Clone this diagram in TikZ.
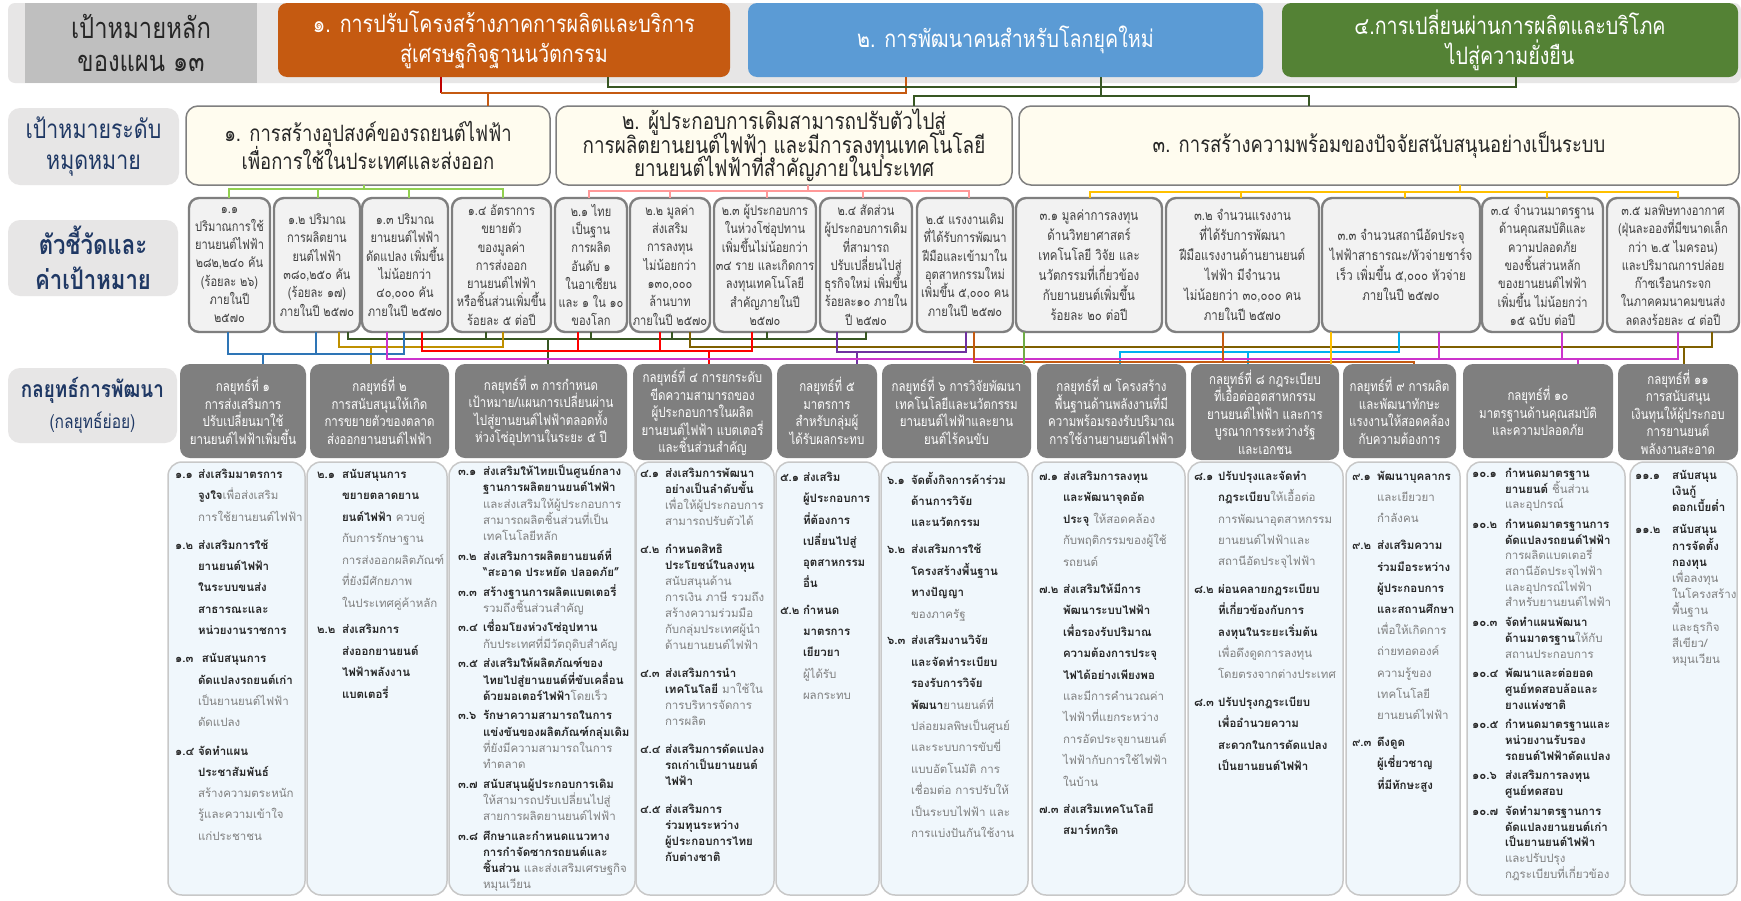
\documentclass[tikz,border=0pt]{standalone}
\usepackage{fontspec}
\setmainfont[Script=Thai]{Loma}
\newfontfamily\thc[Script=Thai,FakeStretch=0.82]{Loma}
\usetikzlibrary{calc}
\definecolor{bandgray}{HTML}{E7E6E6}
\definecolor{hdrgray}{HTML}{BFBFBF}
\definecolor{orgbox}{HTML}{C55A11}
\definecolor{bluebox}{HTML}{5B9BD5}
\definecolor{greenbox}{HTML}{548235}
\definecolor{navy}{HTML}{1F3864}
\definecolor{cream}{HTML}{FFFCEF}
\definecolor{boxborder}{HTML}{7F7F7F}
\definecolor{indfill}{HTML}{F2F2F2}
\definecolor{indtext}{HTML}{404040}
\definecolor{stratfill}{HTML}{7F7F7F}
\definecolor{subfill}{HTML}{F0F7FC}
\definecolor{subborder}{HTML}{C8C8C8}
\definecolor{subbold}{HTML}{262626}
\definecolor{subgray}{HTML}{808080}
\definecolor{cRed}{HTML}{FF0000}
\definecolor{cDkRed}{HTML}{C00000}
\definecolor{cOrange}{HTML}{C55A11}
\definecolor{cDkGreen}{HTML}{385723}
\definecolor{cLtGreen}{HTML}{92D050}
\definecolor{cPink}{HTML}{FF9999}
\definecolor{cGold}{HTML}{FFC000}
\definecolor{cBlue}{HTML}{2E75B6}
\definecolor{cDkGold}{HTML}{BF9000}
\definecolor{cBrown}{HTML}{7F6000}
\definecolor{cPurple}{HTML}{7030A0}
\definecolor{cMagenta}{HTML}{CC33CC}
\definecolor{cCyan}{HTML}{00B0F0}
\definecolor{cGreen}{HTML}{70AD47}
\newlength\numw
\newcommand\sst{\rule[-4pt]{0pt}{13pt}}
\newcommand\subno[1]{\sst\makebox[\numw][l]{\color{subbold}\bfseries #1}}
\newcommand\subin{\sst\hspace*{\numw}}
\newcommand\subbf[1]{{\color{subbold}\bfseries #1}}
\newcommand\bx[7]{\node[#1,anchor=north west,minimum width={(#5-#3)*1pt},minimum height={(#6-#4)*1pt}] (#2) at (#3,#4) {#7};}
\begin{document}
\lineskiplimit=-50pt
\begin{tikzpicture}[x=1pt,y=-1pt,every node/.style={outer sep=0pt},
 band/.style={fill=bandgray,rounded corners=7pt,inner sep=0pt},
 hdr/.style={fill=hdrgray,inner sep=0pt,align=center,text=black!85,font=\thc\fontsize{29}{33}\selectfont},
 mainb/.style={rounded corners=9pt,inner sep=0pt,align=center,text=white,font=\thc\fontsize{24}{30}\selectfont},
 lbl/.style={fill=bandgray,rounded corners=12pt,inner sep=0pt,align=center,text=navy},
 goalb/.style={fill=cream,draw=boxborder,line width=1.5pt,rounded corners=12pt,inner sep=0pt,align=center,text=black!85,font=\thc\fontsize{22.5}{28}\selectfont},
 indb/.style={fill=indfill,draw=boxborder,line width=2.4pt,rounded corners=10pt,inner sep=0pt,align=center,text=indtext,font=\thc\fontsize{13.5}{18.3}\selectfont},
 indbb/.style={indb,font=\thc\fontsize{14}{20}\selectfont},
 strb/.style={fill=stratfill,rounded corners=10pt,inner sep=0pt,align=center,text=white,font=\thc\fontsize{14}{17.5}\selectfont},
 subb/.style={fill=subfill,draw=subborder,line width=1.5pt,rounded corners=14pt,inner sep=0pt},
 subt/.style={anchor=north west,align=left,inner sep=0pt,text=subgray},
 lw/.style={line width=2pt},
 cw/.style={line width=1.7pt}]
\useasboundingbox (0,0) rectangle (1741,900);
\fill[white] (0,0) rectangle (1741,900);
% ---------- header row
\bx{band}{band}{8}{3}{1741}{83}{}
\bx{hdr}{hdr}{25}{3}{257}{83}{เป้าหมายหลัก\\ของแผน ๑๓}
\bx{mainb,fill=orgbox}{orange}{278}{3}{730}{77}{๑. การปรับโครงสร้างภาคการผลิตและบริการ\\สู่เศรษฐกิจฐานนวัตกรรม}
\bx{mainb,fill=bluebox}{blue}{748}{3}{1263}{77}{๒. การพัฒนาคนสำหรับโลกยุคใหม่}
\bx{mainb,fill=greenbox}{green}{1282}{3}{1738}{77}{๔.การเปลี่ยนผ่านการผลิตและบริโภค\\ไปสู่ความยั่งยืน}
% ---------- goals row
\bx{lbl,font=\thc\fontsize{26}{31}\selectfont}{lg}{8}{108}{179}{185}{เป้าหมายระดับ\\หมุดหมาย}
\bx{goalb}{goal1}{186}{106}{550}{185}{๑. การสร้างอุปสงค์ของรถยนต์ไฟฟ้า\\เพื่อการใช้ในประเทศและส่งออก}
\bx{goalb,font=\thc\fontsize{23}{23.5}\selectfont}{goal2}{556}{106}{1012}{185}{๒. ผู้ประกอบการเดิมสามารถปรับตัวไปสู่\\การผลิตยานยนต์ไฟฟ้า และมีการลงทุนเทคโนโลยี\\ยานยนต์ไฟฟ้าที่สำคัญภายในประเทศ}
\bx{goalb}{goal3}{1019}{106}{1739}{185}{๓. การสร้างความพร้อมของปัจจัยสนับสนุนอย่างเป็นระบบ}
% ---------- indicators row
\bx{lbl,font=\thc\bfseries\fontsize{27}{35}\selectfont}{li}{8}{220}{178}{296}{ตัวชี้วัดและ\\ค่าเป้าหมาย}
\bx{indb}{i11}{189}{198}{270}{332}{๑.๑\\ปริมาณการใช้\\ยานยนต์ไฟฟ้า\\๒๘๒,๒๔๐ คัน\\(ร้อยละ ๒๖)\\ภายในปี\\๒๕๗๐}
\bx{indb}{i12}{274}{198}{360}{332}{๑.๒ ปริมาณ\\การผลิตยาน\\ยนต์ไฟฟ้า\\๓๘๐,๒๕๐ คัน\\(ร้อยละ ๑๗)\\ภายในปี ๒๕๗๐}
\bx{indb}{i13}{362}{198}{448}{332}{๑.๓ ปริมาณ\\ยานยนต์ไฟฟ้า\\ดัดแปลง เพิ่มขึ้น\\ไม่น้อยกว่า\\๔๐,๐๐๐ คัน\\ภายในปี ๒๕๗๐}
\bx{indb}{i14}{452}{198}{551}{332}{๑.๔ อัตราการ\\ขยายตัว\\ของมูลค่า\\การส่งออก\\ยานยนต์ไฟฟ้า\\หรือชิ้นส่วนเพิ่มขึ้น\\ร้อยละ ๕ ต่อปี}
\bx{indb}{i21}{555}{198}{627}{332}{๒.๑ ไทย\\เป็นฐาน\\การผลิต\\อันดับ ๑\\ในอาเซียน\\และ ๑ ใน ๑๐\\ของโลก}
\bx{indb}{i22}{630}{198}{710}{332}{๒.๒ มูลค่า\\ส่งเสริม\\การลงทุน\\ไม่น้อยกว่า\\๑๓๐,๐๐๐\\ล้านบาท\\ภายในปี ๒๕๗๐}
\bx{indb}{i23}{714}{198}{816}{332}{๒.๓ ผู้ประกอบการ\\ในห่วงโซ่อุปทาน\\เพิ่มขึ้นไม่น้อยกว่า\\๓๔ ราย และเกิดการ\\ลงทุนเทคโนโลยี\\สำคัญภายในปี\\๒๕๗๐}
\bx{indb}{i24}{820}{198}{912}{332}{๒.๔ สัดส่วน\\ผู้ประกอบการเดิม\\ที่สามารถ\\ปรับเปลี่ยนไปสู่\\ธุรกิจใหม่ เพิ่มขึ้น\\ร้อยละ๑๐ ภายใน\\ปี ๒๕๗๐}
\bx{indb}{i25}{917}{198}{1013}{332}{๒.๕ แรงงานเดิม\\ที่ได้รับการพัฒนา\\ฝีมือและเข้ามาใน\\อุตสาหกรรมใหม่\\เพิ่มขึ้น ๕,๐๐๐ คน\\ภายในปี ๒๕๗๐}
\bx{indbb}{i31}{1016}{198}{1162}{332}{๓.๑ มูลค่าการลงทุน\\ด้านวิทยาศาสตร์\\เทคโนโลยี วิจัย และ\\นวัตกรรมที่เกี่ยวข้อง\\กับยานยนต์เพิ่มขึ้น\\ร้อยละ ๒๐ ต่อปี}
\bx{indbb}{i32}{1166}{198}{1319}{332}{๓.๒ จำนวนแรงงาน\\ที่ได้รับการพัฒนา\\ฝีมือแรงงานด้านยานยนต์\\ไฟฟ้า มีจำนวน\\ไม่น้อยกว่า ๓๐,๐๐๐ คน\\ภายในปี ๒๕๗๐}
\bx{indbb}{i33}{1322}{198}{1480}{332}{๓.๓ จำนวนสถานีอัดประจุ\\ไฟฟ้าสาธารณะ/หัวจ่ายชาร์จ\\เร็ว เพิ่มขึ้น ๕,๐๐๐ หัวจ่าย\\ภายในปี ๒๕๗๐}
\bx{indb}{i34}{1482}{198}{1603}{332}{๓.๔ จำนวนมาตรฐาน\\ด้านคุณสมบัติและ\\ความปลอดภัย\\ของชิ้นส่วนหลัก\\ของยานยนต์ไฟฟ้า\\เพิ่มขึ้น ไม่น้อยกว่า\\๑๕ ฉบับ ต่อปี}
\bx{indb}{i35}{1607}{198}{1739}{332}{๓.๕ มลพิษทางอากาศ\\(ฝุ่นละอองที่มีขนาดเล็ก\\กว่า ๒.๕ ไมครอน)\\และปริมาณการปล่อย\\ก๊าซเรือนกระจก\\ในภาคคมนาคมขนส่ง\\ลดลงร้อยละ ๔ ต่อปี}
% ---------- strategies row
\bx{lbl,font=\thc\fontsize{23}{31}\selectfont}{ls}{8}{368}{177}{443}{{\bfseries กลยุทธ์การพัฒนา}\\{\fontsize{19}{26}\selectfont (กลยุทธ์ย่อย)}}
\bx{strb}{s1}{180}{364}{306}{458}{กลยุทธ์ที่ ๑\\การส่งเสริมการ\\ปรับเปลี่ยนมาใช้\\ยานยนต์ไฟฟ้าเพิ่มขึ้น}
\bx{strb}{s2}{310}{364}{449}{458}{กลยุทธ์ที่ ๒\\การสนับสนุนให้เกิด\\การขยายตัวของตลาด\\ส่งออกยานยนต์ไฟฟ้า}
\bx{strb}{s3}{455}{364}{627}{458}{กลยุทธ์ที่ ๓ การกำหนด\\เป้าหมาย/แผนการเปลี่ยนผ่าน\\ไปสู่ยานยนต์ไฟฟ้าตลอดทั้ง\\ห่วงโซ่อุปทานในระยะ ๕ ปี}
\bx{strb}{s4}{633}{364}{772}{460}{กลยุทธ์ที่ ๔ การยกระดับ\\ขีดความสามารถของ\\ผู้ประกอบการในผลิต\\ยานยนต์ไฟฟ้า แบตเตอรี่\\และชิ้นส่วนสำคัญ}
\bx{strb}{s5}{777}{364}{877}{458}{กลยุทธ์ที่ ๕\\มาตรการ\\สำหรับกลุ่มผู้\\ได้รับผลกระทบ}
\bx{strb}{s6}{882}{364}{1031}{458}{กลยุทธ์ที่ ๖ การวิจัยพัฒนา\\เทคโนโลยีและนวัตกรรม\\ยานยนต์ไฟฟ้าและยาน\\ยนต์ไร้คนขับ}
\bx{strb}{s7}{1037}{364}{1186}{458}{กลยุทธ์ที่ ๗ โครงสร้าง\\พื้นฐานด้านพลังงานที่มี\\ความพร้อมรองรับปริมาณ\\การใช้งานยานยนต์ไฟฟ้า}
\bx{strb}{s8}{1191}{364}{1339}{460}{กลยุทธ์ที่ ๘ กฎระเบียบ\\ที่เอื้อต่ออุตสาหกรรม\\ยานยนต์ไฟฟ้า และการ\\บูรณาการระหว่างรัฐ\\และเอกชน}
\bx{strb}{s9}{1343}{364}{1456}{458}{กลยุทธ์ที่ ๙ การผลิต\\และพัฒนาทักษะ\\แรงงานให้สอดคล้อง\\กับความต้องการ}
\bx{strb}{s10}{1463}{364}{1613}{458}{กลยุทธ์ที่ ๑๐\\มาตรฐานด้านคุณสมบัติ\\และความปลอดภัย}
\bx{strb}{s11}{1618}{364}{1738}{460}{กลยุทธ์ที่ ๑๑\\การสนับสนุน\\เงินทุนให้ผู้ประกอบ\\การยานยนต์\\พลังงานสะอาด}
% ---------- sub-strategy columns
\bx{subb}{c1}{168}{462}{305}{895}{}
\bx{subb}{c2}{307}{462}{447}{895}{}
\bx{subb}{c3}{449}{462}{635}{895}{}
\bx{subb}{c4}{636}{462}{774}{895}{}
\bx{subb}{c5}{776}{462}{879}{895}{}
\bx{subb}{c6}{881}{462}{1028}{895}{}
\bx{subb}{c7}{1032}{462}{1185}{895}{}
\bx{subb}{c8}{1188}{462}{1343}{895}{}
\bx{subb}{c9}{1346}{462}{1460}{895}{}
\bx{subb}{c10}{1467}{462}{1625}{895}{}
\bx{subb}{c11}{1630}{462}{1737}{895}{}
\setlength\numw{23pt}
\node[subt,font=\fontsize{11.5}{21.3}\selectfont] (t1) at (175,469) {%
\subno{๑.๑}\subbf{ส่งเสริมมาตรการ}\\
\subin\subbf{จูงใจ}เพื่อส่งเสริม\\
\subin การใช้ยานยนต์ไฟฟ้า\\[7pt]
\subno{๑.๒}\subbf{ส่งเสริมการใช้}\\
\subin\subbf{ยานยนต์ไฟฟ้า}\\
\subin\subbf{ในระบบขนส่ง}\\
\subin\subbf{สาธารณะและ}\\
\subin\subbf{หน่วยงานราชการ}\\[7pt]
\subno{๑.๓}\subbf{\ สนับสนุนการ}\\
\subin\subbf{ดัดแปลงรถยนต์เก่า}\\
\subin เป็นยานยนต์ไฟฟ้า\\
\subin ดัดแปลง\\[7pt]
\subno{๑.๔}\subbf{จัดทำแผน}\\
\subin\subbf{ประชาสัมพันธ์}\\
\subin สร้างความตระหนัก\\
\subin รู้และความเข้าใจ\\
\subin แก่ประชาชน};
\setlength\numw{25pt}
\node[subt,font=\fontsize{11.5}{21.5}\selectfont] (t2) at (317,469) {%
\subno{๒.๑}\subbf{สนับสนุนการ}\\
\subin\subbf{ขยายตลาดยาน}\\
\subin\subbf{ยนต์ไฟฟ้า} ควบคู่\\
\subin กับการรักษาฐาน\\
\subin การส่งออกผลิตภัณฑ์\\
\subin ที่ยังมีศักยภาพ\\
\subin ในประเทศคู่ค้าหลัก\\[5pt]
\subno{๒.๒}\subbf{ส่งเสริมการ}\\
\subin\subbf{ส่งออกยานยนต์}\\
\subin\subbf{ไฟฟ้าพลังงาน}\\
\subin\subbf{แบตเตอรี่}};
\node[subt,font=\fontsize{11.5}{16.2}\selectfont] (t3) at (458,465) {%
\subno{๓.๑}\subbf{ส่งเสริมให้ไทยเป็นศูนย์กลาง}\\
\subin\subbf{ฐานการผลิตยานยนต์ไฟฟ้า}\\
\subin และส่งเสริมให้ผู้ประกอบการ\\
\subin สามารถผลิตชิ้นส่วนที่เป็น\\
\subin เทคโนโลยีหลัก\\[3.5pt]
\subno{๓.๒}\subbf{ส่งเสริมการผลิตยานยนต์ที่}\\
\subin\subbf{“สะอาด ประหยัด  ปลอดภัย”}\\[3.5pt]
\subno{๓.๓}\subbf{สร้างฐานการผลิตแบตเตอรี่}\\
\subin รวมถึงชิ้นส่วนสำคัญ\\[3.5pt]
\subno{๓.๔}\subbf{เชื่อมโยงห่วงโซ่อุปทาน}\\
\subin กับประเทศที่มีวัตถุดิบสำคัญ\\[3.5pt]
\subno{๓.๕}\subbf{ส่งเสริมให้ผลิตภัณฑ์ของ}\\
\subin\subbf{ไทยไปสู่ยานยนต์ที่ขับเคลื่อน}\\
\subin\subbf{ด้วยมอเตอร์ไฟฟ้า}โดยเร็ว\\[3.5pt]
\subno{๓.๖}\subbf{รักษาความสามารถในการ}\\
\subin\subbf{แข่งขันของผลิตภัณฑ์กลุ่มเดิม}\\
\subin ที่ยังมีความสามารถในการ\\
\subin ทำตลาด\\[3.5pt]
\subno{๓.๗}\subbf{สนับสนุนผู้ประกอบการเดิม}\\
\subin ให้สามารถปรับเปลี่ยนไปสู่\\
\subin สายการผลิตยานยนต์ไฟฟ้า\\[3.5pt]
\subno{๓.๘}\subbf{ศึกษาและกำหนดแนวทาง}\\
\subin\subbf{การกำจัดซากรถยนต์และ}\\
\subin\subbf{ชิ้นส่วน} และส่งเสริมเศรษฐกิจ\\
\subin หมุนเวียน};
\node[subt,font=\fontsize{11.5}{16}\selectfont] (t4) at (640,468) {%
\subno{๔.๑}\subbf{ส่งเสริมการพัฒนา}\\
\subin\subbf{อย่างเป็นลำดับขั้น}\\
\subin เพื่อให้ผู้ประกอบการ\\
\subin สามารถปรับตัวได้\\[12pt]
\subno{๔.๒}\subbf{กำหนดสิทธิ}\\
\subin\subbf{ประโยชน์ในลงทุน}\\
\subin สนับสนุนด้าน\\
\subin การเงิน ภาษี รวมถึง\\
\subin สร้างความร่วมมือ\\
\subin กับกลุ่มประเทศผู้นำ\\
\subin ด้านยานยนต์ไฟฟ้า\\[12pt]
\subno{๔.๓}\subbf{ส่งเสริมการนำ}\\
\subin\subbf{เทคโนโลยี} มาใช้ใน\\
\subin การบริหารจัดการ\\
\subin การผลิต\\[12pt]
\subno{๔.๔}\subbf{ส่งเสริมการดัดแปลง}\\
\subin\subbf{รถเก่าเป็นยานยนต์}\\
\subin\subbf{ไฟฟ้า}\\[12pt]
\subno{๔.๕}\subbf{ส่งเสริมการ}\\
\subin\subbf{ร่วมทุนระหว่าง}\\
\subin\subbf{ผู้ประกอบการไทย}\\
\subin\subbf{กับต่างชาติ}};
\setlength\numw{23pt}
\node[subt,font=\fontsize{11.5}{21.3}\selectfont] (t5) at (780,472) {%
\subno{๕.๑}\subbf{ส่งเสริม}\\
\subin\subbf{ผู้ประกอบการ}\\
\subin\subbf{ที่ต้องการ}\\
\subin\subbf{เปลี่ยนไปสู่}\\
\subin\subbf{อุตสาหกรรม}\\
\subin\subbf{อื่น}\\[5pt]
\subno{๕.๒}\subbf{กำหนด}\\
\subin\subbf{มาตรการ}\\
\subin\subbf{เยียวยา}\\
\subin ผู้ได้รับ\\
\subin ผลกระทบ};
\setlength\numw{24pt}
\node[subt,font=\fontsize{11.5}{21.4}\selectfont] (t6) at (887,472) {%
\subno{๖.๑}\subbf{จัดตั้งกิจการค้าร่วม}\\
\subin\subbf{ด้านการวิจัย}\\
\subin\subbf{และนวัตกรรม}\\[5.5pt]
\subno{๖.๒}\subbf{ส่งเสริมการใช้}\\
\subin\subbf{โครงสร้างพื้นฐาน}\\
\subin\subbf{ทางปัญญา}\\
\subin ของภาครัฐ\\[5.5pt]
\subno{๖.๓}\subbf{ส่งเสริมงานวิจัย}\\
\subin\subbf{และจัดทำระเบียบ}\\
\subin\subbf{รองรับการวิจัย}\\
\subin\subbf{พัฒนา}ยานยนต์ที่\\
\subin ปล่อยมลพิษเป็นศูนย์\\
\subin และระบบการขับขี่\\
\subin แบบอัตโนมัติ การ\\
\subin เชื่อมต่อ การปรับให้\\
\subin เป็นระบบไฟฟ้า และ\\
\subin การแบ่งปันกันใช้งาน};
\node[subt,font=\fontsize{11.5}{21.4}\selectfont] (t7) at (1039,471) {%
\subno{๗.๑}\subbf{ส่งเสริมการลงทุน}\\
\subin\subbf{และพัฒนาจุดอัด}\\
\subin\subbf{ประจุ} ให้สอดคล้อง\\
\subin กับพฤติกรรมของผู้ใช้\\
\subin รถยนต์\\[6pt]
\subno{๗.๒}\subbf{ส่งเสริมให้มีการ}\\
\subin\subbf{พัฒนาระบบไฟฟ้า}\\
\subin\subbf{เพื่อรองรับปริมาณ}\\
\subin\subbf{ความต้องการประจุ}\\
\subin\subbf{ไฟได้อย่างเพียงพอ}\\
\subin และมีการคำนวณค่า\\
\subin ไฟฟ้าที่แยกระหว่าง\\
\subin การอัดประจุยานยนต์\\
\subin ไฟฟ้ากับการใช้ไฟฟ้า\\
\subin ในบ้าน\\[6pt]
\subno{๗.๓}\subbf{ส่งเสริมเทคโนโลยี}\\
\subin\subbf{สมาร์ทกริด}};
\node[subt,font=\fontsize{11.5}{21.4}\selectfont] (t8) at (1194,471) {%
\subno{๘.๑}\subbf{ปรับปรุงและจัดทำ}\\
\subin\subbf{กฎระเบียบ}ให้เอื้อต่อ\\
\subin การพัฒนาอุตสาหกรรม\\
\subin ยานยนต์ไฟฟ้าและ\\
\subin สถานีอัดประจุไฟฟ้า\\[6pt]
\subno{๘.๒}\subbf{ผ่อนคลายกฎระเบียบ}\\
\subin\subbf{ที่เกี่ยวข้องกับการ}\\
\subin\subbf{ลงทุนในระยะเริ่มต้น}\\
\subin เพื่อดึงดูดการลงทุน\\
\subin โดยตรงจากต่างประเทศ\\[6pt]
\subno{๘.๓}\subbf{ปรับปรุงกฎระเบียบ}\\
\subin\subbf{เพื่ออำนวยความ}\\
\subin\subbf{สะดวกในการดัดแปลง}\\
\subin\subbf{เป็นยานยนต์ไฟฟ้า}};
\setlength\numw{25pt}
\node[subt,font=\fontsize{11.5}{21.2}\selectfont] (t9) at (1352,471) {%
\subno{๙.๑}\subbf{พัฒนาบุคลากร}\\
\subin และเยียวยา\\
\subin กำลังคน\\[6pt]
\subno{๙.๒}\subbf{ส่งเสริมความ}\\
\subin\subbf{ร่วมมือระหว่าง}\\
\subin\subbf{ผู้ประกอบการ}\\
\subin\subbf{และสถานศึกษา}\\
\subin เพื่อให้เกิดการ\\
\subin ถ่ายทอดองค์\\
\subin ความรู้ของ\\
\subin เทคโนโลยี\\
\subin ยานยนต์ไฟฟ้า\\[6pt]
\subno{๙.๓}\subbf{ดึงดูด}\\
\subin\subbf{ผู้เชี่ยวชาญ}\\
\subin\subbf{ที่มีทักษะสูง}};
\setlength\numw{33pt}
\node[subt,font=\fontsize{11.5}{15.7}\selectfont] (t10) at (1472,468) {%
\subno{๑๐.๑}\subbf{กำหนดมาตรฐาน}\\
\subin\subbf{ยานยนต์} ชิ้นส่วน\\
\subin และอุปกรณ์\\[4pt]
\subno{๑๐.๒}\subbf{กำหนดมาตรฐานการ}\\
\subin\subbf{ดัดแปลงรถยนต์ไฟฟ้า}\\
\subin การผลิตแบตเตอรี่\\
\subin สถานีอัดประจุไฟฟ้า\\
\subin และอุปกรณ์ไฟฟ้า\\
\subin สำหรับยานยนต์ไฟฟ้า\\[4pt]
\subno{๑๐.๓}\subbf{จัดทำแผนพัฒนา}\\
\subin\subbf{ด้านมาตรฐาน}ให้กับ\\
\subin สถานประกอบการ\\[4pt]
\subno{๑๐.๔}\subbf{พัฒนาและต่อยอด}\\
\subin\subbf{ศูนย์ทดสอบล้อและ}\\
\subin\subbf{ยางแห่งชาติ}\\[4pt]
\subno{๑๐.๕}\subbf{กำหนดมาตรฐานและ}\\
\subin\subbf{หน่วยงานรับรอง}\\
\subin\subbf{รถยนต์ไฟฟ้าดัดแปลง}\\[4pt]
\subno{๑๐.๖}\subbf{ส่งเสริมการลงทุน}\\
\subin\subbf{ศูนย์ทดสอบ}\\[4pt]
\subno{๑๐.๗}\subbf{จัดทำมาตรฐานการ}\\
\subin\subbf{ดัดแปลงยานยนต์เก่า}\\
\subin\subbf{เป็นยานยนต์ไฟฟ้า}\\
\subin และปรับปรุง\\
\subin กฎระเบียบที่เกี่ยวข้อง};
\setlength\numw{37pt}
\node[subt,font=\fontsize{11.5}{16.2}\selectfont] (t11) at (1635,470) {%
\subno{๑๑.๑}\subbf{สนับสนุน}\\
\subin\subbf{เงินกู้}\\
\subin\subbf{ดอกเบี้ยต่ำ}\\[6pt]
\subno{๑๑.๒}\subbf{สนับสนุน}\\
\subin\subbf{การจัดตั้ง}\\
\subin\subbf{กองทุน}\\
\subin เพื่อลงทุน\\
\subin ในโครงสร้าง\\
\subin พื้นฐาน\\
\subin และธุรกิจ\\
\subin สีเขียว/\\
\subin หมุนเวียน};
% ---------- header connectors
\draw[cDkRed,lw] ([xshift=163pt]orange.south west) -- ++(0,16);
\draw[cOrange,lw] ([xshift=163pt]orange.south west) ++(0,16) -| ([xshift=158pt]blue.south west);
\draw[cOrange,lw] ([xshift=302pt]goal1.north west) -- ++(0,-13);
\draw[cDkGreen,lw] ([xshift=330pt]orange.south west) -- ++(0,10) -| ([xshift=234pt]green.south west);
\draw[cDkGreen,lw] ([xshift=353pt]blue.south west) -- ++(0,19) -| ([xshift=358pt]goal2.north west);
\draw[cDkGreen,lw] ([xshift=353pt]blue.south west) -- ++(0,19) -| ([xshift=290pt]goal3.north west);
% ---------- goal -> indicator connectors
\foreach \n/\d in {i11/40,i12/44,i13/47,i14/51}
  \draw[cLtGreen,lw] ([xshift=178pt]goal1.south west) -- ++(0,4) -| ([xshift=\d pt]\n.north west);
\foreach \n/\d in {i21/34,i22/40,i23/53,i24/43,i25/52}
  \draw[cPink,lw] ([xshift=252pt]goal2.south west) -- ++(0,6) -| ([xshift=\d pt]\n.north west);
\foreach \n/\d in {i31/74,i32/75,i33/83,i34/65,i35/71}
  \draw[cGold,lw] ([xshift=441pt]goal3.south west) -- ++(0,7) -| ([xshift=\d pt]\n.north west);
% ---------- indicator -> strategy connectors
\foreach \n/\d in {i12/74,i14/34,i21/36,i22/42,i23/53,i24/46}
  \draw[cDkGreen,cw] ([xshift=\d pt]\n.south west) -- ++(0,7) -| ([xshift=93pt]s3.north west);
\foreach \n/\d in {i12/65,i14/51}
  \draw[cDkGold,cw] ([xshift=\d pt]\n.south west) -- ++(0,15) -| ([xshift=61pt]s2.north west);
\foreach \n/\d in {i22/60,i35/105}
  \draw[cBrown,cw] ([xshift=\d pt]\n.south west) -- ++(0,15) -| ([xshift=66pt]s11.north west);
\foreach \n/\d in {i24/17,i25/49}
  \draw[cPurple,cw] ([xshift=\d pt]\n.south west) -- ++(0,20) -| ([xshift=80pt]s5.north west);
\foreach \n/\d in {i13/60,i21/23,i22/30,i23/38}
  \draw[cRed,cw] ([xshift=\d pt]\n.south west) -- ++(0,19) -| ([xshift=76pt]s4.north west);
\draw[cCyan,cw] ([xshift=77pt]i33.south west) -- ++(0,20) -| ([xshift=83pt]s7.north west);
\draw[cCyan,cw] ([xshift=77pt]i33.south west) -- ++(0,20) -| ([xshift=57pt]s8.north west);
\foreach \n/\d in {i11/39,i12/42,i13/42}
  \draw[cBlue,cw] ([xshift=\d pt]\n.south west) -- ++(0,22) -| ([xshift=83pt]s1.north west);
\foreach \n/\d in {i13/25,i33/117,i34/80,i35/71}
  \draw[cMagenta,cw] ([xshift=\d pt]\n.south west) -- ++(0,27) -| ([xshift=115pt]s10.north west);
\foreach \n/\d in {i25/57,i32/57}
  \draw[cOrange,cw] ([xshift=\d pt]\n.south west) -- ++(0,30) -| ([xshift=71pt]s9.north west);
\draw[cGreen,cw] ([xshift=8pt]i31.south west) -- ([xshift=142pt]s6.north west);
\draw[cGold,cw] ([xshift=9pt]i33.south west) -- ([xshift=140pt]s8.north west);
\end{tikzpicture}
\end{document}
